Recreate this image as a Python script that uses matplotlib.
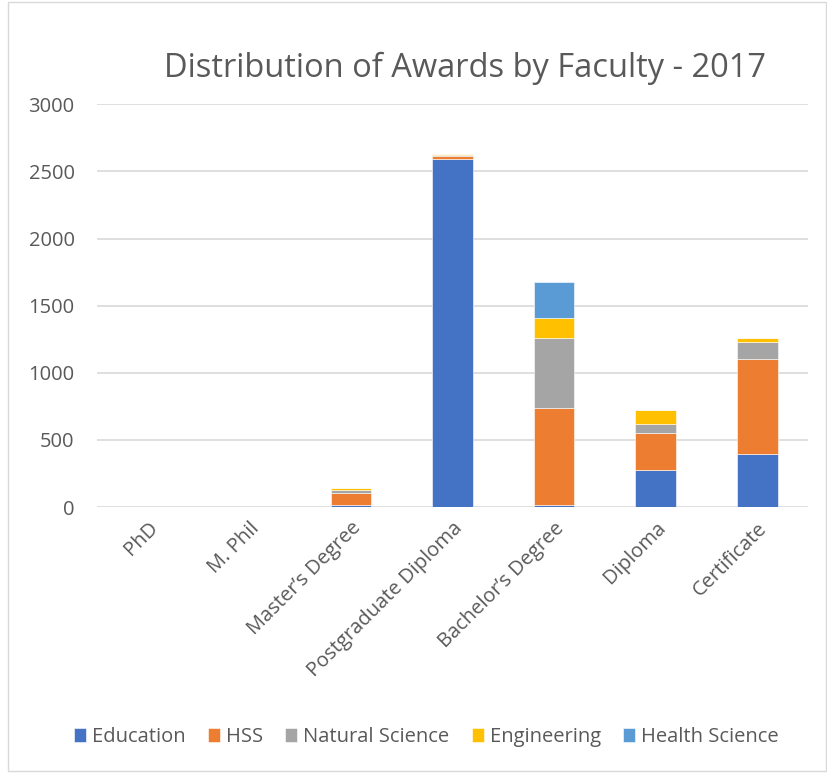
import matplotlib.pyplot as plt
import numpy as np

categories = ["PhD", "M. Phil", "Master\u2019s Degree", "Postgraduate Diploma",
              "Bachelor\u2019s Degree", "Diploma", "Certificate"]
education = [0, 0, 12, 2590, 18, 278, 397]
hss = [0, 0, 92, 22, 722, 273, 708]
natural_science = [0, 0, 27, 8, 518, 67, 124]
engineering = [0, 0, 10, 12, 147, 102, 29]
health_science = [0, 0, 0, 0, 268, 0, 0]

series = [("Education", education, "#4472C4"),
          ("HSS", hss, "#ED7D31"),
          ("Natural Science", natural_science, "#A5A5A5"),
          ("Engineering", engineering, "#FFC000"),
          ("Health Science", health_science, "#5B9BD5")]

plt.rcParams['font.family'] = ['Open Sans', 'DejaVu Sans']
text_col = "#595959"

fig = plt.figure(figsize=(8.28, 7.73), dpi=100)
ax = fig.add_axes([0.117, 0.344, 0.859, 0.521])

x = np.arange(len(categories))
bottom = np.zeros(len(categories))
for name, vals, col in series:
    ax.bar(x, vals, 0.4, bottom=bottom, color=col, label=name, zorder=3,
           edgecolor="white", linewidth=0.4)
    bottom += np.array(vals)

ax.set_ylim(0, 3000)
ax.set_xlim(-0.5, len(categories) - 0.5)
ax.set_yticks(range(0, 3001, 500))
ax.yaxis.grid(True, color="#D9D9D9", linewidth=1.2, zorder=0)
ax.tick_params(axis="both", length=0, labelsize=14.5, colors=text_col)
ax.tick_params(axis="y", pad=16)
ax.tick_params(axis="x", pad=8)
ax.set_xticks(x)
ax.set_xticklabels(categories, rotation=45, ha="right", rotation_mode="anchor")
for s in ax.spines.values():
    s.set_visible(False)

fig.text(0.562, 0.912, "Distribution of Awards by Faculty - 2017", ha="center",
         va="center", fontsize=23.5, color=text_col)

leg = fig.legend(loc="center", bbox_to_anchor=(0.515, 0.047), ncol=5, frameon=False,
                 fontsize=14.5, handlelength=0.6, handleheight=0.7, handletextpad=0.3,
                 columnspacing=1.1, labelcolor=text_col)

fig.patches.append(plt.Rectangle((0.01, 0.003), 0.988, 0.994, transform=fig.transFigure,
                                 fill=False, edgecolor="#D9D9D9", linewidth=1))

fig.savefig("out.png", dpi=100)
